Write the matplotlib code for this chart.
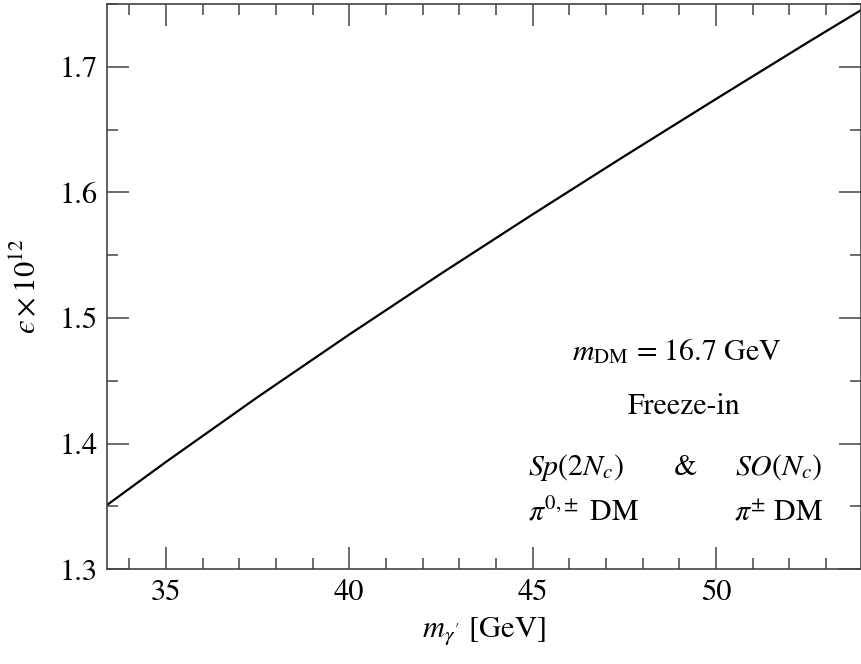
import matplotlib
matplotlib.use("Agg")
import matplotlib.pyplot as plt
from matplotlib.ticker import MultipleLocator

plt.rcParams['font.family'] = ['STIXGeneral', 'DejaVu Sans']
plt.rcParams['mathtext.fontset'] = 'stix'

# data
m_gamma = [33.39, 35.0, 37.5, 40.0, 42.5, 45.0, 47.5, 50.0, 52.5, 53.96]
eps = [1.3512, 1.3855, 1.4371, 1.4869, 1.5353, 1.5825, 1.6288, 1.6743, 1.7193, 1.7451]

xticks = [35, 40, 45, 50]
yticks = [1.3, 1.4, 1.5, 1.6, 1.7]

fig = plt.figure(figsize=(8.61, 6.64), dpi=100)
ax = fig.add_axes([107/861, 1 - 569.3/664, 1 - 107/861, (569.3 - 4)/664])

ax.plot(m_gamma, eps, color='black', lw=1.6)

ax.set_xlim(33.39, 53.96)
ax.set_ylim(1.3, 1.75)
ax.set_xticks(xticks)
ax.set_xticklabels([str(t) for t in xticks])
ax.set_yticks(yticks)
ax.set_yticklabels([f"{t:.1f}" for t in yticks])
ax.xaxis.set_minor_locator(MultipleLocator(1))
ax.yaxis.set_minor_locator(MultipleLocator(0.05))

spc = '#444444'
for s in ax.spines.values():
    s.set_color(spc)
    s.set_linewidth(1.2)
ax.tick_params(which='both', direction='in', top=True, right=True, color=spc, width=1.1)
ax.tick_params(which='major', length=16, labelsize=22, pad=7)
ax.tick_params(which='minor', length=8)

ax.set_xlabel(r"$m_{\gamma'}$ [GeV]", fontsize=22, labelpad=6)
ax.set_ylabel("$\u03f5 \\times 10^{12}$", fontsize=22, labelpad=12)

fs = 21.5
tr = ax.transAxes
ax.text(0.756, 0.3702, r"$m_{\rm DM}$ = 16.7 GeV", transform=tr, ha='center', va='baseline', fontsize=fs)
ax.text(0.765, 0.2742, "Freeze-in", transform=tr, ha='center', va='baseline', fontsize=fs)
ax.text(0.558, 0.1668, r"$Sp(2N_c)$", transform=tr, ha='left', va='baseline', fontsize=fs)
ax.text(0.7666, 0.1668, "&", transform=tr, ha='center', va='baseline', fontsize=fs)
ax.text(0.9496, 0.1668, r"$SO(N_c)$", transform=tr, ha='right', va='baseline', fontsize=fs)
ax.text(0.558, 0.0872, r"$\pi^{0{,}\pm}$ DM", transform=tr, ha='left', va='baseline', fontsize=fs)
ax.text(0.9496, 0.0872, r"$\pi^{\pm}$ DM", transform=tr, ha='right', va='baseline', fontsize=fs)

fig.savefig("out.png", dpi=100)
